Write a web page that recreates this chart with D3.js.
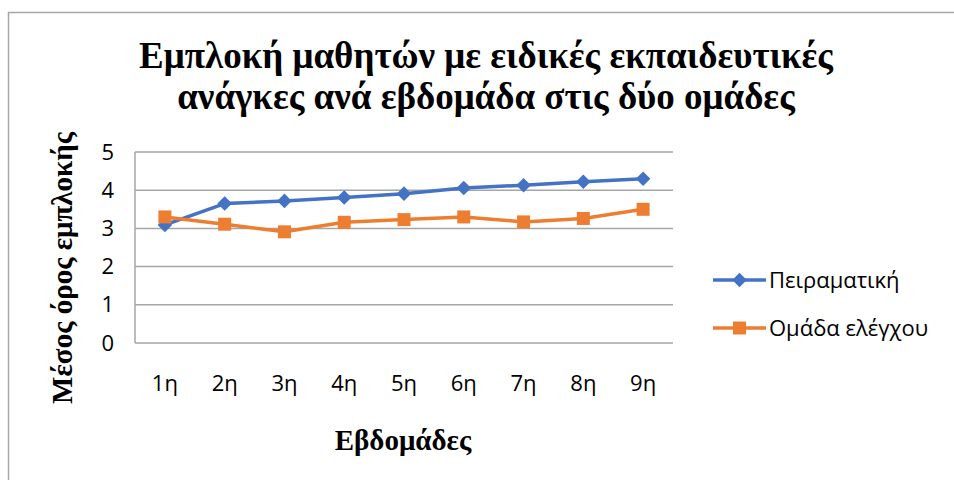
<!DOCTYPE html>
<html>
<head>
<meta charset="utf-8">
<script src="https://cdn.jsdelivr.net/npm/d3@7"></script>
<style>
  html, body { margin: 0; padding: 0; background: #fff; }
  svg { display: block; }
</style>
</head>
<body>
<svg id="chart" width="954" height="480"></svg>
<script>
// Weekly mean engagement of pupils with special educational needs, two groups
const weeks = ["1η", "2η", "3η", "4η", "5η", "6η", "7η", "8η", "9η"];
const experimental = [3.09, 3.65, 3.72, 3.81, 3.91, 4.06, 4.13, 4.22, 4.30];
const control = [3.30, 3.11, 2.91, 3.16, 3.23, 3.30, 3.17, 3.26, 3.50];
const yTicks = [0, 1, 2, 3, 4, 5];
const seriesNames = ["Πειραματική", "Ομάδα ελέγχου"];
const titleLines = ["Εμπλοκή μαθητών με ειδικές εκπαιδευτικές", "ανάγκες ανά εβδομάδα στις δύο ομάδες"];
const xTitle = "Εβδομάδες";
const yTitle = "Μέσος όρος εμπλοκής";

const colors = ["#4472C4", "#ED7D31"];
const serifFont = "'Liberation Serif', 'DejaVu Serif', serif";
const sansFont = "'Open Sans', 'Liberation Sans', sans-serif";
const labelSize = 22;

const svg = d3.select("#chart");

// outer chart frame
svg.append("rect")
  .attr("x", 8.5).attr("y", 12.5)
  .attr("width", 1000).attr("height", 1000)
  .attr("fill", "none").attr("stroke", "#a6a6a6").attr("stroke-width", 1.5);

const plot = { left: 135, right: 673, top: 152, bottom: 343 };

const x = d3.scaleBand().domain(weeks).range([plot.left, plot.right]);
const y = d3.scaleLinear().domain([0, 5]).range([plot.bottom, plot.top]);

// horizontal gridlines
svg.append("g")
  .selectAll("line")
  .data(yTicks)
  .join("line")
  .attr("x1", plot.left).attr("x2", plot.right)
  .attr("y1", d => y(d)).attr("y2", d => y(d))
  .attr("stroke", "#a6a6a6").attr("stroke-width", 1.5);

// left border of the plot area
svg.append("line")
  .attr("x1", plot.left).attr("x2", plot.left)
  .attr("y1", plot.top).attr("y2", plot.bottom)
  .attr("stroke", "#a6a6a6").attr("stroke-width", 1.5);

// y axis labels
const yAxis = svg.append("g")
  .attr("transform", `translate(${plot.left - 21},0)`)
  .call(d3.axisLeft(y).tickValues(yTicks).tickSize(0).tickPadding(0).tickFormat(d3.format("d")));
yAxis.select(".domain").remove();
yAxis.selectAll("text")
  .attr("font-family", sansFont).attr("font-size", labelSize).attr("fill", "#000");

// x axis labels
const xAxis = svg.append("g")
  .attr("transform", `translate(0,${plot.bottom + 32})`)
  .call(d3.axisBottom(x).tickSize(0).tickPadding(0));
xAxis.select(".domain").remove();
xAxis.selectAll("text")
  .attr("font-family", sansFont).attr("font-size", labelSize).attr("fill", "#000");

// series lines and markers
const cx = d => x(d) + x.bandwidth() / 2;
const line = d3.line().x((d, i) => cx(weeks[i])).y(d => y(d));

const diamond = d3.symbol().type(d3.symbolDiamond2).size(135);
const square = d3.symbol().type(d3.symbolSquare2).size(215);

[experimental, control].forEach((vals, k) => {
  svg.append("path")
    .datum(vals)
    .attr("d", line)
    .attr("fill", "none")
    .attr("stroke", colors[k])
    .attr("stroke-width", 3.5)
    .attr("stroke-linejoin", "round");
  svg.append("g")
    .selectAll("path")
    .data(vals)
    .join("path")
    .attr("transform", (d, i) => `translate(${cx(weeks[i])},${y(d)})`)
    .attr("d", k === 0 ? diamond() : square())
    .attr("fill", colors[k]);
});

// legend
const legend = svg.append("g");
seriesNames.forEach((name, k) => {
  const ly = 280 + k * 48;
  legend.append("line")
    .attr("x1", 713).attr("x2", 766).attr("y1", ly).attr("y2", ly)
    .attr("stroke", colors[k]).attr("stroke-width", 3.5);
  legend.append("path")
    .attr("transform", `translate(739.5,${ly})`)
    .attr("d", k === 0 ? diamond() : square())
    .attr("fill", colors[k]);
  legend.append("text")
    .attr("x", 769).attr("y", ly).attr("dy", "0.35em")
    .attr("font-family", sansFont).attr("font-size", labelSize).attr("fill", "#000")
    .text(name);
});

// chart title
svg.append("text")
  .attr("text-anchor", "middle")
  .attr("font-family", serifFont).attr("font-weight", "bold").attr("font-size", 37)
  .attr("fill", "#000")
  .selectAll("tspan")
  .data(titleLines)
  .join("tspan")
  .attr("x", 486)
  .attr("y", (d, i) => 68 + i * 41)
  .text(d => d);

// axis titles
svg.append("text")
  .attr("x", 403).attr("y", 450)
  .attr("text-anchor", "middle")
  .attr("font-family", serifFont).attr("font-weight", "bold").attr("font-size", 29)
  .attr("fill", "#000")
  .text(xTitle);

svg.append("text")
  .attr("transform", "translate(72,268) rotate(-90)")
  .attr("text-anchor", "middle")
  .attr("font-family", serifFont).attr("font-weight", "bold").attr("font-size", 29)
  .attr("fill", "#000")
  .text(yTitle);
</script>
</body>
</html>
